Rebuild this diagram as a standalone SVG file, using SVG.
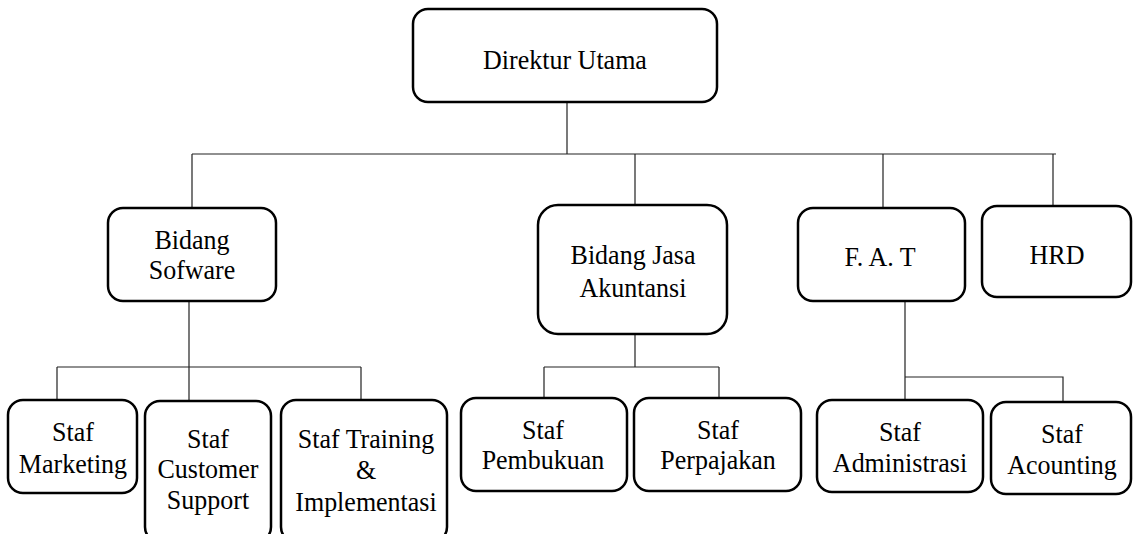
<svg xmlns="http://www.w3.org/2000/svg" width="1133" height="534" viewBox="0 0 1133 534">
<style>
.box{fill:#fff;stroke:#000;stroke-width:2.5}
.c{stroke:#222;stroke-width:1.2;fill:none}
text{font-family:"Liberation Serif","Times New Roman",serif;font-size:26px;fill:#000;text-anchor:middle;transform-box:fill-box;transform-origin:center;transform:scaleY(1.08)}
</style>
<rect width="1133" height="534" fill="#fff"/>
<g id="connectors">
<path class="c" d="M567,102V154M192,154H1056M192,154V208M635,154V205M883,154V208M1053,154V206"/>
<path class="c" d="M189,301V401M57,367H361M57,367V400M361,367V400"/>
<path class="c" d="M635,334V367M544,367H719M544,367V398M719,367V398"/>
<path class="c" d="M905,301V400M905,377H1063V402"/>
</g>
<g id="direktur"><rect class="box" x="413" y="9" width="304" height="93" rx="15"/><text x="565" y="68">Direktur Utama</text></g>
<g id="bidang-sofware"><rect class="box" x="108" y="208" width="168" height="93" rx="15"/><text x="192" y="248">Bidang</text><text x="192" y="278">Sofware</text></g>
<g id="bidang-jasa"><rect class="box" x="538" y="205" width="189" height="129" rx="20"/><text x="633" y="263">Bidang Jasa</text><text x="633" y="296">Akuntansi</text></g>
<g id="fat"><rect class="box" x="798" y="208" width="167" height="93" rx="15"/><text x="880" y="265">F. A. T</text></g>
<g id="hrd"><rect class="box" x="982" y="206" width="149" height="91" rx="15"/><text x="1057" y="263">HRD</text></g>
<g id="staf-marketing"><rect class="box" x="8" y="400" width="129" height="93" rx="15"/><text x="73" y="440">Staf</text><text x="73" y="472">Marketing</text></g>
<g id="staf-customer"><rect class="box" x="145" y="401" width="126" height="141" rx="15"/><text x="208" y="447">Staf</text><text x="208" y="477">Customer</text><text x="208" y="508">Support</text></g>
<g id="staf-training"><rect class="box" x="281" y="400" width="166" height="142" rx="15"/><text x="366" y="447">Staf Training</text><text x="366" y="478">&amp;</text><text x="366" y="510">Implementasi</text></g>
<g id="staf-pembukuan"><rect class="box" x="461" y="398" width="166" height="93" rx="15"/><text x="543" y="438">Staf</text><text x="543" y="468">Pembukuan</text></g>
<g id="staf-perpajakan"><rect class="box" x="634" y="398" width="167" height="93" rx="15"/><text x="718" y="438">Staf</text><text x="718" y="468">Perpajakan</text></g>
<g id="staf-administrasi"><rect class="box" x="817" y="400" width="166" height="92" rx="15"/><text x="900" y="440">Staf</text><text x="900" y="471">Administrasi</text></g>
<g id="staf-acounting"><rect class="box" x="991" y="402" width="140" height="92" rx="15"/><text x="1062" y="442">Staf</text><text x="1062" y="473">Acounting</text></g>
</svg>
